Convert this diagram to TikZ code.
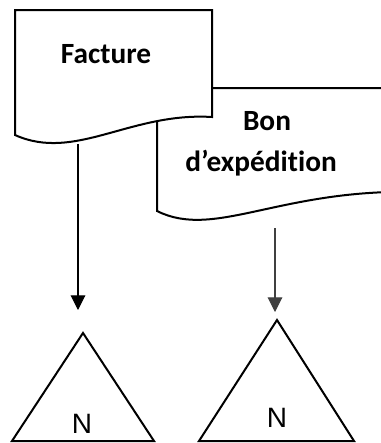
\documentclass[tikz,border=0pt]{standalone}
\usepackage{fontspec}
\setmainfont[Ligatures={NoCommon}]{Carlito}
\newfontfamily\labelfont{Liberation Sans}
\usetikzlibrary{arrows.meta}
\begin{document}
\begin{tikzpicture}[x=0.75pt,y=-0.75pt,
  doc/.style={draw=black,line width=1.5pt,fill=white,line join=miter},
  doctext/.style={font=\fontsize{22}{26}\bfseries,inner sep=0pt,anchor=base},
  flow/.style={line width=0.8pt,-{Triangle[length=11pt,width=11pt]}},
  archive/.style={draw=black,line width=1.5pt,line join=miter},
  archtext/.style={font=\fontsize{21}{24}\labelfont,inner sep=0pt,anchor=base}]
\useasboundingbox (0,0) rectangle (381,443);
\begin{scope}
  \clip (0,0) rectangle (381,443);
  % second document, partly hidden behind the first
  \draw[doc] (157,211) -- (157,88) -- (420,88) -- (420,192)
    .. controls (280,188) and (215,240) .. (157,211) -- cycle;
  % first document
  \draw[doc] (15,135) -- (15,10) -- (212,10) -- (212,117)
    .. controls (130,112) and (75,162) .. (15,135) -- cycle;
\end{scope}
\node[doctext] (facture) at (106,63.3) {Facture};
\node[doctext] (bon) at (267,130) {Bon};
\node[doctext] (exped) at (261,171.7) {d’expédition};

% archive triangles
\draw[archive] (12,441) -- (83,333) coordinate (tri1) -- (154,441) -- cycle;
\draw[archive] (199,441) -- (277,320) coordinate (tri2) -- (354,441) -- cycle;
\node[archtext] (n1) at (82,433) {N};
\node[archtext] (n2) at (277,427.7) {N};

% flows
\coordinate (f-out) at (78,144);
\coordinate (f-in) at (78,310);
\coordinate (b-out) at (275,228);
\coordinate (b-in) at (275,312);
\draw[flow,black] (f-out) -- (f-in);
\draw[flow,black!75] (b-out) -- (b-in);
\end{tikzpicture}
\end{document}
